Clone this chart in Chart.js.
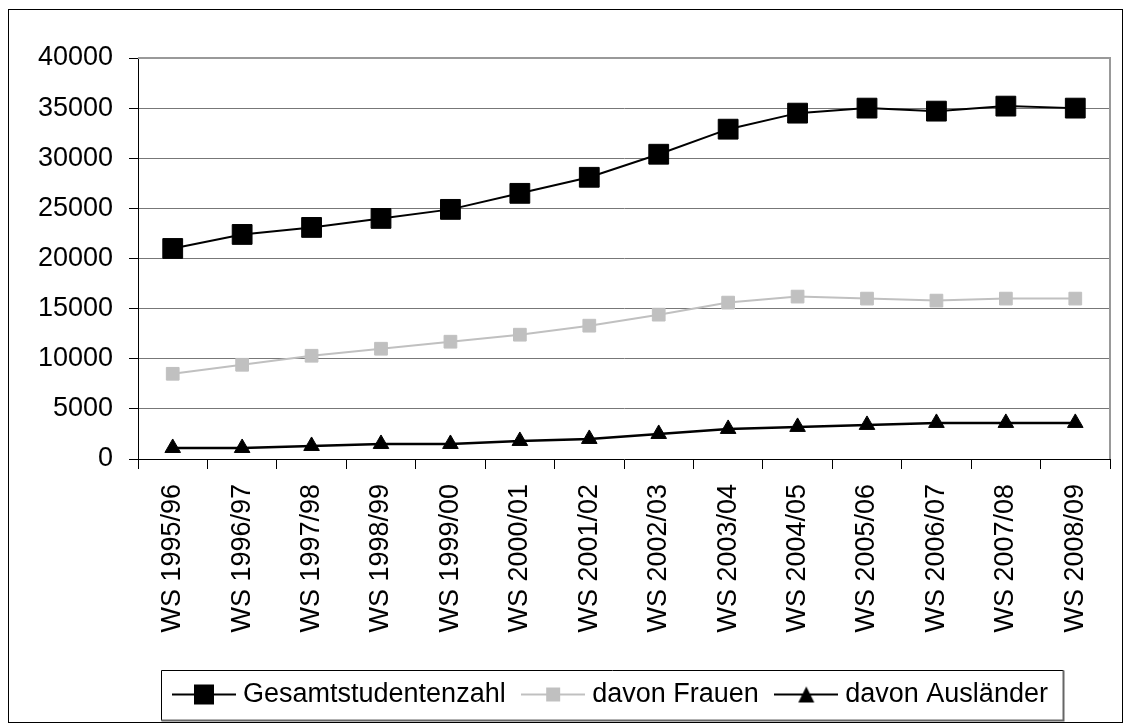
<!DOCTYPE html>
<html lang="de">
<head>
<meta charset="UTF-8">
<title>Studentenzahlen</title>
<script src="https://cdn.jsdelivr.net/npm/chart.js@4/dist/chart.umd.min.js"></script>
<style>
  body { margin: 0; background: #fff; }
  .chart-box { position: relative; width: 1125px; height: 725px; }
</style>
</head>
<body>
<div class="chart-box"><canvas id="studChart"></canvas></div>
<script>
const semesters = ['WS 1995/96', 'WS 1996/97', 'WS 1997/98', 'WS 1998/99', 'WS 1999/00', 'WS 2000/01', 'WS 2001/02',
                   'WS 2002/03', 'WS 2003/04', 'WS 2004/05', 'WS 2005/06', 'WS 2006/07', 'WS 2007/08', 'WS 2008/09'];
const gesamt     = [21000, 22400, 23100, 24000, 24900, 26500, 28100, 30400, 32900, 34500, 35000, 34700, 35200, 35000];
const frauen     = [8500, 9400, 10300, 11000, 11700, 12400, 13300, 14400, 15600, 16200, 16000, 15800, 16000, 16000];
const auslaender = [1100, 1100, 1300, 1500, 1500, 1800, 2000, 2500, 3000, 3200, 3400, 3600, 3600, 3600];
const yTicks     = [0, 5000, 10000, 15000, 20000, 25000, 30000, 35000, 40000];

const FONT = '"Liberation Sans", Arial, sans-serif';

// little line + marker pictures for the legend
function legendIcon(color, shape, size) {
  const c = document.createElement('canvas');
  c.width = 64; c.height = 24;
  const g = c.getContext('2d');
  g.strokeStyle = color; g.fillStyle = color; g.lineWidth = 2;
  g.beginPath(); g.moveTo(0, 12); g.lineTo(64, 12); g.stroke();
  if (shape === 'rect') {
    g.fillRect(32 - size / 2, 12 - size / 2, size, size);
  } else {
    g.beginPath();
    g.moveTo(32, 12 - size / 2);
    g.lineTo(32 + size / 2, 12 + size / 2);
    g.lineTo(32 - size / 2, 12 + size / 2);
    g.closePath(); g.fill();
  }
  return c;
}
const icons = [legendIcon('#000', 'rect', 20), legendIcon('#c0c0c0', 'rect', 14), legendIcon('#000', 'tri', 16)];

// outer border, plot frame, legend box
const framePlugin = {
  id: 'frame',
  afterLayout(chart) {
    const lg = chart.legend;
    const w = lg.right - lg.left;
    lg.left = chart.chartArea.left + 18.5;
    lg.right = lg.left + w;
  },
  beforeDraw(chart) {
    const ctx = chart.ctx;
    ctx.save();
    ctx.strokeStyle = '#000'; ctx.lineWidth = 1;
    ctx.strokeRect(8.5, 9.5, 1114, 713);
    ctx.restore();
  },
  afterDraw(chart) {
    const ctx = chart.ctx, a = chart.chartArea;
    ctx.save();
    ctx.strokeStyle = '#999'; ctx.lineWidth = 2;
    ctx.beginPath();
    ctx.moveTo(a.left, a.top); ctx.lineTo(a.right, a.top); ctx.lineTo(a.right, a.bottom);
    ctx.stroke();

    const hb = chart.legend.legendHitBoxes;
    const last = hb[hb.length - 1];
    const l = Math.round(hb[0].left - 17.5) + 0.5;
    const r = Math.round(last.left + last.width + 15) + 0.5;
    const mid = hb[0].top + hb[0].height / 2;
    const t = Math.round(mid - 25) + 0.5, b = Math.round(mid + 25) + 0.5;
    ctx.lineWidth = 1; ctx.strokeStyle = '#000';
    ctx.beginPath();
    ctx.moveTo(l, b); ctx.lineTo(l, t); ctx.lineTo(r, t);
    ctx.stroke();
    ctx.strokeStyle = '#666'; ctx.lineWidth = 2;
    ctx.beginPath();
    ctx.moveTo(r, t); ctx.lineTo(r, b); ctx.lineTo(l, b);
    ctx.stroke();
    ctx.restore();
  }
};

const ctx = document.getElementById('studChart').getContext('2d');
new Chart(ctx, {
  type: 'line',
  data: {
    labels: semesters,
    datasets: [{
      label: 'Gesamtstudentenzahl',
      data: gesamt,
      borderColor: '#000', backgroundColor: '#000', borderWidth: 2,
      pointStyle: 'rect', pointRadius: 14, pointBorderWidth: 1
    }, {
      label: 'davon Frauen',
      data: frauen,
      borderColor: '#c0c0c0', backgroundColor: '#c0c0c0', borderWidth: 2,
      pointStyle: 'rect', pointRadius: 9, pointBorderWidth: 1
    }, {
      label: 'davon Ausländer',
      data: auslaender,
      borderColor: '#000', backgroundColor: '#000', borderWidth: 2.5,
      pointStyle: 'triangle', pointRadius: 9, pointBorderWidth: 1
    }]
  },
  options: {
    responsive: true,
    maintainAspectRatio: false,
    animation: false,
    layout: { padding: { top: 58, right: 12, bottom: 7, left: 0 } },
    scales: {
      x: {
        offset: true,
        grid: { offset: true, drawOnChartArea: false, tickLength: 10, tickColor: '#000' },
        border: { color: '#000', width: 1 },
        ticks: { autoSkip: false, minRotation: 90, maxRotation: 90, padding: 15,
                 color: '#000', font: { family: FONT, size: 27 } },
        afterFit: s => { s.height = 200; }
      },
      y: {
        min: 0, max: 40000,
        afterBuildTicks: s => { s.ticks = yTicks.map(v => ({ value: v })); },
        grid: { color: c => (c.tick && c.tick.value === 0) ? 'transparent' : '#777',
                tickLength: 9, tickColor: '#000' },
        border: { color: '#000', width: 1 },
        ticks: { padding: 16, color: '#000', font: { family: FONT, size: 27 },
                 callback: v => String(v) },
        afterFit: s => { s.width = 138; }
      }
    },
    plugins: {
      tooltip: { enabled: false },
      legend: {
        position: 'bottom',
        align: 'start',
        labels: {
          usePointStyle: true,
          pointStyleWidth: 51,
          padding: 22,
          color: '#000',
          font: { family: FONT, size: 27 },
          generateLabels: chart => chart.data.datasets.map((ds, i) => ({
            text: ds.label, pointStyle: icons[i], datasetIndex: i,
            fontColor: '#000', lineWidth: 0, strokeStyle: 'transparent',
            fillStyle: 'transparent', hidden: false
          }))
        }
      }
    }
  },
  plugins: [framePlugin]
});
</script>
</body>
</html>
